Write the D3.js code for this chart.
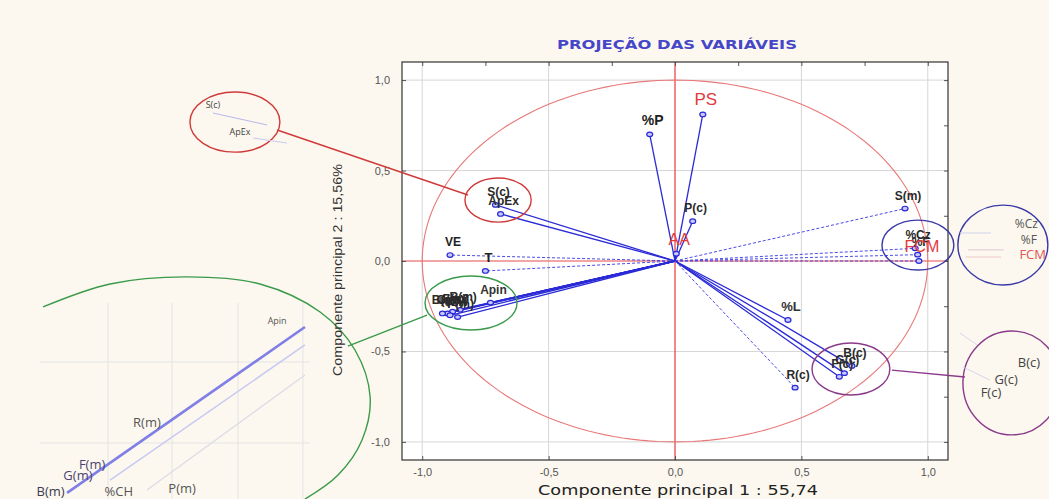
<!DOCTYPE html>
<html><head><meta charset="utf-8">
<script src="https://cdn.jsdelivr.net/npm/d3@7"></script>
<style>body{margin:0;background:#fcf8ef;} svg{display:block}</style>
</head><body><svg id="c" width="1049" height="499"></svg>
<script>
// ---------- DATA ----------
const variables = ["%P","PS","P(c)","S(c)","ApEx","S(m)","%Cz","%F","FCM","VE","T","Apin","R(m)","F(m)","G(m)","B(m)","%CH","P(m)","%L","B(c)","G(c)","F(c)","R(c)","AA"];
const pc1 = [-0.10, 0.11, 0.07, -0.71, -0.69, 0.91, 0.95, 0.96, 0.965, -0.89, -0.75, -0.73, -0.85, -0.88, -0.90, -0.92, -0.89, -0.86, 0.447, 0.70, 0.67, 0.65, 0.475, 0.005];
const pc2 = [0.70, 0.81, 0.22, 0.31, 0.26, 0.29, 0.07, 0.035, 0.0, 0.033, -0.055, -0.23, -0.27, -0.28, -0.29, -0.29, -0.30, -0.31, -0.326, -0.58, -0.62, -0.64, -0.70, 0.04];
const tickValues = [-1, -0.5, 0, 0.5, 1];
const tickLabels = ["-1,0", "-0,5", "0,0", "0,5", "1,0"];
const chartTitle = "PROJEÇÃO DAS VARIÁVEIS";
const xTitle = "Componente principal 1 : 55,74";
const yTitle = "Componente principal 2 : 15,56%";

// zoom-inset annotations (data units of the same plane)
const insetEllipses = [
  {c:"#d03a3a", cx:-0.700, cy:0.337, rx:0.131, ry:0.122},
  {c:"#d03a3a", cx:-1.741, cy:0.768, rx:0.178, ry:0.166},
  {c:"#3a3aa8", cx:0.961, cy:0.088, rx:0.142, ry:0.138},
  {c:"#3a3aa8", cx:1.297, cy:0.088, rx:0.178, ry:0.221},
  {c:"#8a3a8a", cx:0.696, cy:-0.597, rx:0.154, ry:0.144},
  {c:"#8a3a8a", cx:1.333, cy:-0.674, rx:0.194, ry:0.287},
  {c:"#3a9a4a", cx:-0.807, cy:-0.232, rx:0.182, ry:0.149}
];
const insetConnectors = [
  {c:"#d03a3a", x1:-1.574, y1:0.724, x2:-0.819, y2:0.365},
  {c:"#8a3a8a", x1:0.858, y1:-0.603, x2:1.147, y2:-0.641},
  {c:"#3a9a4a", x1:-1.294, y1:-0.470, x2:-0.981, y2:-0.299}
];
const greenArcX = [-2.500, -2.235, -1.930, -1.642, -1.404, -1.266, -1.206, -1.238, -1.333, -1.464];
const greenArcY = [-0.254, -0.127, -0.088, -0.127, -0.282, -0.492, -0.752, -0.989, -1.183, -1.316];
const insetGridX = [-2.243, -1.990, -1.729, -1.472];
const insetGridY = [-0.558, -1.006];
const insetLines = [
  {c:"#7f7fe6", w:2.6, x1:-2.405, y1:-1.282, x2:-1.464, y2:-0.365},
  {c:"#c9c9f2", w:1.6, x1:-2.235, y1:-1.211, x2:-1.464, y2:-0.464},
  {c:"#dddde8", w:1.4, x1:-2.089, y1:-1.266, x2:-1.464, y2:-0.630},
  {c:"#b8b8ea", w:1.0, x1:-1.828, y1:0.818, x2:-1.614, y2:0.752},
  {c:"#c8c8ee", w:1.0, x1:-1.669, y1:0.680, x2:-1.535, y2:0.652},
  {c:"#d6d6ee", w:1.2, x1:1.127, y1:0.155, x2:1.250, y2:0.155},
  {c:"#e6d0d8", w:1.2, x1:1.160, y1:0.061, x2:1.300, y2:0.061},
  {c:"#f0c8c8", w:1.2, x1:1.150, y1:0.022, x2:1.290, y2:0.022},
  {c:"#d6d6ee", w:1.0, x1:1.127, y1:-0.398, x2:1.195, y2:-0.464},
  {c:"#d6d6ee", w:1.0, x1:1.139, y1:-0.586, x2:1.246, y2:-0.658}
];
const insetLabels = [
  {t:"Apin", x:-1.574, y:-0.348, s:9, c:"#555"},
  {t:"R(m)", x:-2.089, y:-0.915, s:13, c:"#555"},
  {t:"F(m)", x:-2.306, y:-1.150, s:13, c:"#4a4470"},
  {t:"G(m)", x:-2.362, y:-1.212, s:13, c:"#4a4470"},
  {t:"B(m)", x:-2.470, y:-1.300, s:13, c:"#3a3a50"},
  {t:"%CH", x:-2.200, y:-1.300, s:13, c:"#555"},
  {t:"P(m)", x:-1.950, y:-1.280, s:13, c:"#555"},
  {t:"S(c)", x:-1.828, y:0.846, s:9, c:"#444"},
  {t:"ApEx", x:-1.721, y:0.697, s:9, c:"#444"},
  {t:"%Cz", x:1.390, y:0.180, s:12, c:"#555"},
  {t:"%F", x:1.400, y:0.095, s:12, c:"#555"},
  {t:"FCM", x:1.415, y:0.012, s:13, c:"#e05555"},
  {t:"B(c)", x:1.400, y:-0.585, s:13, c:"#444"},
  {t:"G(c)", x:1.310, y:-0.680, s:13, c:"#444"},
  {t:"F(c)", x:1.250, y:-0.752, s:13, c:"#444"}
];

// ---------- STYLE ----------
const W = 1049, H = 499;
const frame = {left:402, right:948, top:62, bottom:460};
const dashedVars = new Set(["S(m)","%Cz","%F","FCM","VE","T","R(c)"]);
const labelStyle = {
  "PS": {size:17, color:"#e23a3a", weight:400},
  "FCM": {size:16, color:"#e23a3a", weight:400},
  "AA": {size:16, color:"#e23a3a", weight:400},
  "%P": {size:14, color:"#222", weight:700},
  "%L": {size:13, color:"#333", weight:700},
  "VE": {size:12, color:"#222", weight:700},
  "T": {size:13, color:"#222", weight:700},
  "Apin": {size:12, color:"#333", weight:700}
};
const defaultLabel = {size:12, color:"#2a2a2a", weight:700};

const svg = d3.select("#c");
const x = d3.scaleLinear().domain([-1.08, 1.08]).range([frame.left, frame.right]);
const y = d3.scaleLinear().domain([-1.1, 1.1]).range([frame.bottom, frame.top]);

svg.append("rect").attr("width", W).attr("height", H).attr("fill", "#fcf8ef");

// plot background
svg.append("rect").attr("x", frame.left).attr("y", frame.top)
  .attr("width", frame.right - frame.left).attr("height", frame.bottom - frame.top)
  .attr("fill", "#ffffff");

// inset faint grid (left)
const ig = svg.append("g");
ig.selectAll("line.v").data(insetGridX).join("line")
  .attr("x1", d => x(d)).attr("x2", d => x(d)).attr("y1", y(-0.232)).attr("y2", y(-1.32))
  .attr("stroke", "#e4e4e4").attr("stroke-width", 1);
ig.selectAll("line.h").data(insetGridY).join("line")
  .attr("x1", x(-2.512)).attr("x2", x(-1.444)).attr("y1", d => y(d)).attr("y2", d => y(d))
  .attr("stroke", "#e4e4e4").attr("stroke-width", 1);

// grid
const grid = svg.append("g");
grid.selectAll("line.gx").data(tickValues.filter(d => d !== 0)).join("line")
  .attr("x1", d => x(d)).attr("x2", d => x(d)).attr("y1", frame.top).attr("y2", frame.bottom)
  .attr("stroke", "#d6d6d6").attr("stroke-width", 1);
grid.selectAll("line.gy").data(tickValues.filter(d => d !== 0)).join("line")
  .attr("y1", d => y(d)).attr("y2", d => y(d)).attr("x1", frame.left).attr("x2", frame.right)
  .attr("stroke", "#d6d6d6").attr("stroke-width", 1);

// red axes through origin
svg.append("line").attr("x1", x(0)).attr("x2", x(0)).attr("y1", frame.top).attr("y2", frame.bottom)
  .attr("stroke", "#e84a4a").attr("stroke-width", 1.3);
svg.append("line").attr("x1", frame.left).attr("x2", frame.right).attr("y1", y(0)).attr("y2", y(0))
  .attr("stroke", "#e84a4a").attr("stroke-width", 1.1);

// unit circle
const circ = d3.range(0, 361, 2).map(a => [Math.cos(a * Math.PI / 180), Math.sin(a * Math.PI / 180)]);
svg.append("path").datum(circ)
  .attr("d", d3.line().x(d => x(d[0])).y(d => y(d[1])))
  .attr("fill", "none").attr("stroke", "#e87878").attr("stroke-width", 1.1);

// axes
const minor = d3.range(-1, 1.01, 0.25);
const xAxis = d3.axisBottom(x).tickValues(tickValues).tickFormat((d, i) => tickLabels[i]).tickSize(-4).tickPadding(8);
const gx = svg.append("g").attr("transform", `translate(0,${frame.bottom})`).call(xAxis);
const yAxis = d3.axisLeft(y).tickValues(tickValues).tickFormat((d, i) => tickLabels[i]).tickSize(-4).tickPadding(12);
const gy = svg.append("g").attr("transform", `translate(${frame.left},0)`).call(yAxis);
[gx, gy].forEach(g => {
  g.select(".domain").remove();
  g.selectAll("text").attr("font-family", "Liberation Sans, Arial, sans-serif").attr("font-size", 11).attr("fill", "#555");
  g.selectAll("line").attr("stroke", "#555");
});
const gxt = svg.append("g").attr("transform", `translate(0,${frame.top})`)
  .call(d3.axisTop(x).tickValues(minor).tickFormat("").tickSize(-4));
const gyr = svg.append("g").attr("transform", `translate(${frame.right},0)`)
  .call(d3.axisRight(y).tickValues(minor).tickFormat("").tickSize(-4));
[gxt, gyr].forEach(g => { g.select(".domain").remove(); g.selectAll("line").attr("stroke", "#555"); });

// frame
svg.append("rect").attr("x", frame.left).attr("y", frame.top)
  .attr("width", frame.right - frame.left).attr("height", frame.bottom - frame.top)
  .attr("fill", "none").attr("stroke", "#333").attr("stroke-width", 1.2);

// vectors
const pts = variables.map((v, i) => ({name: v, x: pc1[i], y: pc2[i]}));
const vec = svg.append("g");
vec.selectAll("line").data(pts).join("line")
  .attr("x1", x(0)).attr("y1", y(0))
  .attr("x2", d => x(d.x)).attr("y2", d => y(d.y))
  .attr("stroke", d => dashedVars.has(d.name) ? "#4a4ae6" : "#2a2ad6")
  .attr("stroke-width", d => dashedVars.has(d.name) ? 1 : 1.3)
  .attr("stroke-dasharray", d => dashedVars.has(d.name) ? "3,2" : null);
vec.selectAll("ellipse").data(pts).join("ellipse")
  .attr("cx", d => x(d.x)).attr("cy", d => y(d.y)).attr("rx", 3).attr("ry", 2.3)
  .attr("fill", "#c8c8ff").attr("stroke", "#2a2ad6").attr("stroke-width", 1.2);
vec.selectAll("text").data(pts).join("text")
  .attr("x", d => x(d.x) + 3).attr("y", d => y(d.y) - 9)
  .attr("text-anchor", "middle")
  .attr("font-family", "Liberation Sans, Arial, sans-serif")
  .attr("font-size", d => (labelStyle[d.name] || defaultLabel).size)
  .attr("font-weight", d => (labelStyle[d.name] || defaultLabel).weight)
  .attr("fill", d => (labelStyle[d.name] || defaultLabel).color)
  .text(d => d.name);

// annotations
const ann = svg.append("g");
ann.selectAll("ellipse").data(insetEllipses).join("ellipse")
  .attr("cx", d => x(d.cx)).attr("cy", d => y(d.cy))
  .attr("rx", d => x(d.rx) - x(0)).attr("ry", d => y(0) - y(d.ry))
  .attr("fill", "none").attr("stroke", d => d.c).attr("stroke-width", 1.4);
ann.selectAll("line.con").data(insetConnectors).join("line")
  .attr("x1", d => x(d.x1)).attr("y1", d => y(d.y1)).attr("x2", d => x(d.x2)).attr("y2", d => y(d.y2))
  .attr("stroke", d => d.c).attr("stroke-width", 1.4);
ann.append("path").datum(d3.zip(greenArcX, greenArcY))
  .attr("d", d3.line().x(d => x(d[0])).y(d => y(d[1])).curve(d3.curveCatmullRom))
  .attr("fill", "none").attr("stroke", "#3a9a4a").attr("stroke-width", 1.4);
ann.selectAll("line.il").data(insetLines).join("line")
  .attr("x1", d => x(d.x1)).attr("y1", d => y(d.y1)).attr("x2", d => x(d.x2)).attr("y2", d => y(d.y2))
  .attr("stroke", d => d.c).attr("stroke-width", d => d.w);
ann.selectAll("text").data(insetLabels).join("text")
  .attr("x", d => x(d.x)).attr("y", d => y(d.y)).attr("text-anchor", "middle")
  .attr("font-family", "Open Sans, Liberation Sans, sans-serif")
  .attr("font-size", d => d.s).attr("fill", d => d.c)
  .text(d => d.t);

// titles
svg.append("text").attr("x", 677).attr("y", 49).attr("text-anchor", "middle")
  .attr("font-family", "DejaVu Sans, Verdana, sans-serif").attr("font-weight", 700)
  .attr("font-size", 13).attr("fill", "#4646c8")
  .attr("textLength", 240).attr("lengthAdjust", "spacingAndGlyphs").text(chartTitle);
svg.append("text").attr("x", 678).attr("y", 495).attr("text-anchor", "middle")
  .attr("font-family", "DejaVu Sans, Verdana, sans-serif")
  .attr("font-size", 14.5).attr("fill", "#222")
  .attr("textLength", 280).attr("lengthAdjust", "spacingAndGlyphs").text(xTitle);
svg.append("text").attr("transform", `translate(342,270) rotate(-90)`).attr("text-anchor", "middle")
  .attr("font-family", "Liberation Sans, Arial, sans-serif")
  .attr("font-size", 13).attr("fill", "#333")
  .attr("textLength", 212).attr("lengthAdjust", "spacingAndGlyphs").text(yTitle);
</script></body></html>
